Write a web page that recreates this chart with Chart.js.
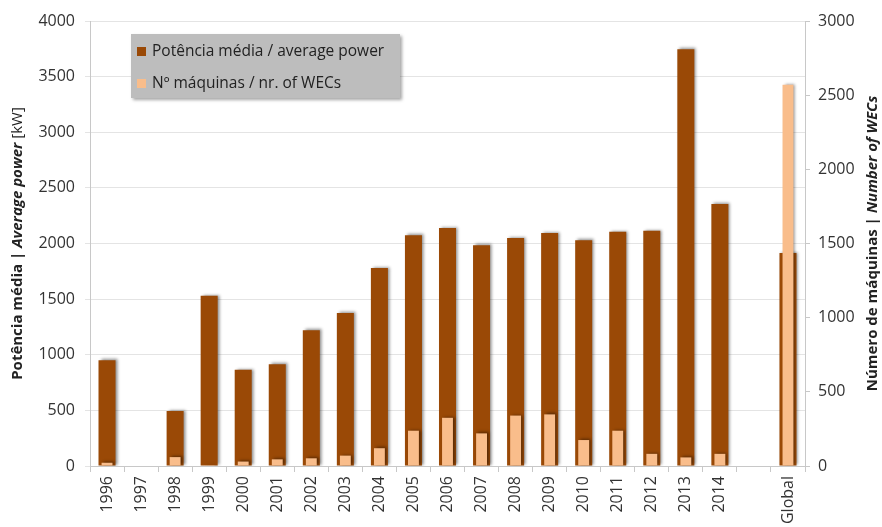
<!DOCTYPE html>
<html>
<head>
<meta charset="utf-8">
<script src="https://cdn.jsdelivr.net/npm/chart.js@4.4.1/dist/chart.umd.min.js"></script>
<style>
  html,body{margin:0;padding:0;background:#fff;}
  #wrap{position:relative;width:882px;height:527px;}
  #lg{position:absolute;left:131px;top:34px;width:269px;height:64px;background:#bdbdbd;
      box-shadow:2px 2px 3px rgba(0,0,0,0.35);font-family:'Open Sans',sans-serif;font-size:15.5px;color:#222;}
  #lg .it{position:absolute;left:6px;height:20px;line-height:20px;white-space:nowrap;}
  #lg .sw{display:inline-block;width:9px;height:9px;margin-right:6px;vertical-align:0px;}
</style>
</head>
<body>
<div id="wrap">
  <canvas id="c" width="882" height="527"></canvas>
  <div id="lg"></div>
</div>
<script>
// categories (blank slot before Global)
var YEARS=['1996','1997','1998','1999','2000','2001','2002','2003','2004','2005','2006','2007','2008','2009','2010','2011','2012','2013','2014','','Global'];
// average power, kW (left axis)
var POWER=[950,null,495,1530,865,915,1220,1375,1780,2075,2140,1985,2050,2095,2030,2105,2115,3745,2355,null,1915];
// number of WECs (right axis)
var WECS=[22,null,60,5,30,45,52,70,120,238,325,220,340,348,175,238,82,58,82,null,2570];
var LEFT_TICKS={min:0,max:4000,step:500};
var RIGHT_TICKS={min:0,max:3000,step:500};
var SERIES_NAMES=['Potência média / average power','Nº máquinas / nr. of WECs'];
var LEFT_TITLE=[['Potência média | ','bold'],['Average power','italic bold'],[' [kW]','']];
var RIGHT_TITLE=[['Número de máquinas | ','bold'],['Number of WECs','italic bold']];

var BROWN='#9a4906', LIGHT='#f9bd8b', TXT='#333', F="'Open Sans',sans-serif";

// legend box
document.getElementById('lg').innerHTML=
  '<div class="it" style="top:6px"><span class="sw" style="background:'+BROWN+'"></span>'+SERIES_NAMES[0]+'</div>'+
  '<div class="it" style="top:38px"><span class="sw" style="background:'+LIGHT+'"></span>'+SERIES_NAMES[1]+'</div>';

// bar shadows
var shadowPlugin={
  id:'shadow',
  beforeDatasetsDraw:function(ch){var x=ch.ctx;x.save();x.shadowColor='rgba(0,0,0,0.45)';x.shadowBlur=3;x.shadowOffsetX=2;x.shadowOffsetY=-1;},
  afterDatasetsDraw:function(ch){ch.ctx.restore();}
};

// rotated axis titles with mixed styles
function drawTitle(ctx,parts,cx,cy){
  ctx.save();
  ctx.translate(cx,cy);ctx.rotate(-Math.PI/2);
  ctx.fillStyle='#222';ctx.textBaseline='middle';ctx.textAlign='left';
  var w=0;
  parts.forEach(function(p){ctx.font=(p[1]?p[1]+' ':'')+'15px '+F;w+=ctx.measureText(p[0]).width;});
  var x=-w/2;
  parts.forEach(function(p){ctx.font=(p[1]?p[1]+' ':'')+'15px '+F;ctx.fillText(p[0],x,0);x+=ctx.measureText(p[0]).width;});
  ctx.restore();
}
var titlePlugin={
  id:'titles',
  afterDraw:function(ch){
    var a=ch.chartArea,cy=(a.top+a.bottom)/2;
    drawTitle(ch.ctx,LEFT_TITLE,18,cy);
    drawTitle(ch.ctx,RIGHT_TITLE,873,cy);
  }
};

function plain(v){return String(v);}

new Chart(document.getElementById('c'),{
  type:'bar',
  data:{
    labels:YEARS,
    datasets:[
      {label:SERIES_NAMES[0],data:POWER,yAxisID:'y',backgroundColor:BROWN,grouped:false,order:1,
       categoryPercentage:1,barPercentage:0.5},
      {label:SERIES_NAMES[1],data:WECS,yAxisID:'y1',backgroundColor:LIGHT,grouped:false,order:0,
       categoryPercentage:1,barPercentage:0.32}
    ]
  },
  options:{
    responsive:false,
    devicePixelRatio:1,
    animation:false,
    layout:{padding:{top:21,left:0,right:0,bottom:0}},
    plugins:{legend:{display:false},tooltip:{enabled:false}},
    scales:{
      x:{
        afterFit:function(s){s.height=61;},
        grid:{offset:true,drawOnChartArea:false,tickLength:6,color:'#c8c8c8'},
        border:{color:'#c8c8c8'},
        ticks:{autoSkip:false,minRotation:90,maxRotation:90,padding:4,color:TXT,font:{family:F,size:16}}
      },
      y:{
        position:'left',min:LEFT_TICKS.min,max:LEFT_TICKS.max,
        afterFit:function(s){s.width=90;},
        grid:{color:'#e4e4e4',tickLength:5},
        border:{color:'#c8c8c8'},
        ticks:{stepSize:LEFT_TICKS.step,padding:10,color:TXT,font:{family:F,size:16},callback:plain}
      },
      y1:{
        position:'right',min:RIGHT_TICKS.min,max:RIGHT_TICKS.max,
        afterFit:function(s){s.width=77;},
        grid:{drawOnChartArea:false,tickLength:5,color:'#c8c8c8'},
        border:{color:'#c8c8c8'},
        ticks:{stepSize:RIGHT_TICKS.step,padding:8,color:TXT,font:{family:F,size:16},callback:plain}
      }
    }
  },
  plugins:[shadowPlugin,titlePlugin]
});
</script>
</body>
</html>
